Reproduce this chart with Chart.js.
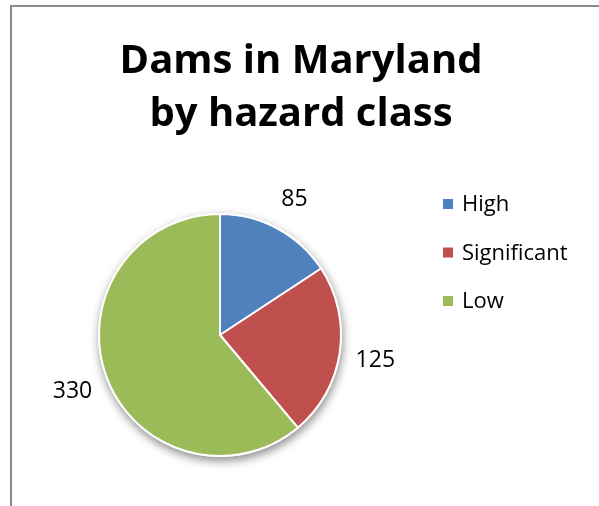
<!DOCTYPE html>
<html>
<head>
<meta charset="utf-8">
<script src="https://cdn.jsdelivr.net/npm/chart.js@4.4.1/dist/chart.umd.min.js"></script>
<style>
    html, body { margin: 0; padding: 0; background: #fff; }
    #wrap { width: 599px; height: 506px; }
</style>
</head>
<body>
<div id="wrap"><canvas id="damsPie" width="599" height="506"></canvas></div>
<script>
// Chart data
const titleLines = ['Dams in Maryland', 'by hazard class'];
const hazardClasses = ['High', 'Significant', 'Low'];
const damCounts = [85, 125, 330];
const sliceColors = ['#4F81BD', '#C0504D', '#9BBB59'];

const fontFamily = '"Open Sans", "Noto Sans", sans-serif';

// Frame + title + soft shadow under the pie
const framePlugin = {
    id: 'frame',
    beforeDraw(chart) {
        const ctx = chart.ctx;
        ctx.save();
        ctx.fillStyle = '#ffffff';
        ctx.fillRect(0, 0, chart.width, chart.height);
        ctx.fillStyle = '#8a8a8a';
        ctx.fillRect(10, 5, chart.width - 10, 2);
        ctx.fillRect(10, 5, 2, chart.height - 5);

        ctx.fillStyle = '#000000';
        ctx.font = 'bold 40px ' + fontFamily;
        ctx.textAlign = 'center';
        ctx.textBaseline = 'alphabetic';
        ctx.fillText(titleLines[0], 301, 73);
        ctx.fillText(titleLines[1], 301, 126);
        ctx.restore();
    },
    beforeDatasetsDraw(chart) {
        const arc = chart.getDatasetMeta(0).data[0];
        if (!arc) return;
        const ctx = chart.ctx;
        ctx.save();
        ctx.shadowColor = 'rgba(0,0,0,0.45)';
        ctx.shadowBlur = 10;
        ctx.shadowOffsetX = 1;
        ctx.shadowOffsetY = 4;
        ctx.fillStyle = '#ffffff';
        ctx.beginPath();
        ctx.arc(arc.x, arc.y, arc.outerRadius + 1, 0, Math.PI * 2);
        ctx.fill();
        ctx.restore();
    }
};

// Value labels outside each slice + legend on the right
const labelPlugin = {
    id: 'labels',
    afterDatasetsDraw(chart) {
        const ctx = chart.ctx;
        const meta = chart.getDatasetMeta(0);
        ctx.save();
        ctx.fillStyle = '#000000';
        ctx.font = '23px ' + fontFamily;
        ctx.textAlign = 'center';
        ctx.textBaseline = 'middle';
        meta.data.forEach((arc, i) => {
            const mid = (arc.startAngle + arc.endAngle) / 2;
            const r = arc.outerRadius + 36;
            ctx.fillText(String(damCounts[i]), arc.x + Math.cos(mid) * r, arc.y + Math.sin(mid) * r + 3);
        });

        ctx.font = '22px ' + fontFamily;
        ctx.textAlign = 'left';
        hazardClasses.forEach((name, i) => {
            const y = 204 + i * 48.5;
            ctx.fillStyle = sliceColors[i];
            ctx.fillRect(443, y - 5, 10, 10);
            ctx.fillStyle = '#000000';
            ctx.fillText(name, 462, y + 1);
        });
        ctx.restore();
    }
};

new Chart(document.getElementById('damsPie').getContext('2d'), {
    type: 'pie',
    data: {
        labels: hazardClasses,
        datasets: [{
            data: damCounts,
            backgroundColor: sliceColors,
            borderColor: '#ffffff',
            borderWidth: 2,
            hoverOffset: 0,
            offset: 0
        }]
    },
    options: {
        responsive: false,
        animation: false,
        layout: {
            padding: { left: 98, right: 257, top: 213, bottom: 49 }
        },
        plugins: {
            legend: { display: false },
            title: { display: false },
            tooltip: { enabled: false }
        }
    },
    plugins: [framePlugin, labelPlugin]
});
</script>
</body>
</html>
